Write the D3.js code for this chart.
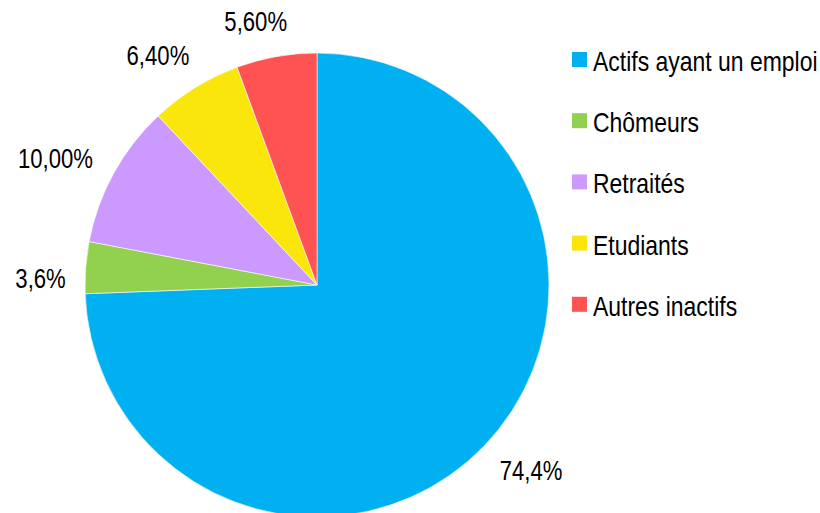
<!DOCTYPE html>
<html>
<head>
<meta charset="utf-8">
<script src="https://cdn.jsdelivr.net/npm/d3@7"></script>
<style>
  body { margin: 0; background: #fff; }
  text { font-family: "Liberation Sans Narrow", "Arial Narrow", "Liberation Sans", Arial, sans-serif; fill: #000; }
</style>
</head>
<body>
<script>
// data
var categories = ["Actifs ayant un emploi", "Chômeurs", "Retraités", "Etudiants", "Autres inactifs"];
var values = [74.4, 3.6, 10.0, 6.4, 5.6];
var labels = ["74,4%", "3,6%", "10,00%", "6,40%", "5,60%"];
var colors = ["#00B0F0", "#92D050", "#CC99FF", "#FAE60A", "#FF5252"];

var width = 820, height = 513;
var cx = 317, cy = 285, radius = 232;
// no narrow font installed, so squeeze the regular one horizontally
var squeeze = 0.82;

var svg = d3.select("body").append("svg")
    .attr("width", width)
    .attr("height", height);

var g = svg.append("g")
    .attr("transform", "translate(" + cx + "," + cy + ")");

var pie = d3.pie().sort(null).value(function(d) { return d; });
var arc = d3.arc().innerRadius(0).outerRadius(radius);

var arcs = pie(values);

g.selectAll("path")
    .data(arcs)
  .enter().append("path")
    .attr("d", arc)
    .attr("fill", function(d, i) { return colors[i]; })
    .attr("stroke", "#fff")
    .attr("stroke-width", 0.6);

// data labels, pushed outside the edge so the text box clears the pie
var shift = -3 * Math.PI / 180;
var lbl = g.selectAll("text.lbl")
    .data(arcs)
  .enter().append("text")
    .attr("class", "lbl")
    .style("font-size", "27px")
    .attr("text-anchor", "middle")
    .attr("dy", "0.36em")
    .text(function(d, i) { return labels[i]; });

lbl.each(function(d) {
  var w = this.getBBox().width * squeeze;
  var a = (d.startAngle + d.endAngle) / 2 + shift;
  var s = Math.sin(a), c = -Math.cos(a);
  var dist = radius + 19 + Math.abs(w / 2 * s) + Math.abs(13 * c);
  d3.select(this).attr("transform",
      "translate(" + (dist * s) + "," + (dist * c) + ") scale(" + squeeze + ",1)");
});

// legend
var legend = svg.append("g")
    .attr("transform", "translate(572,60)");

var item = legend.selectAll("g")
    .data(categories)
  .enter().append("g")
    .attr("transform", function(d, i) { return "translate(0," + (i * 61.2) + ")"; });

item.append("rect")
    .attr("x", 0)
    .attr("y", -8)
    .attr("width", 15)
    .attr("height", 15)
    .attr("fill", function(d, i) { return colors[i]; });

item.append("text")
    .attr("transform", "translate(21,11) scale(" + squeeze + ",1)")
    .style("font-size", "28px")
    .text(function(d) { return d; });
</script>
</body>
</html>
